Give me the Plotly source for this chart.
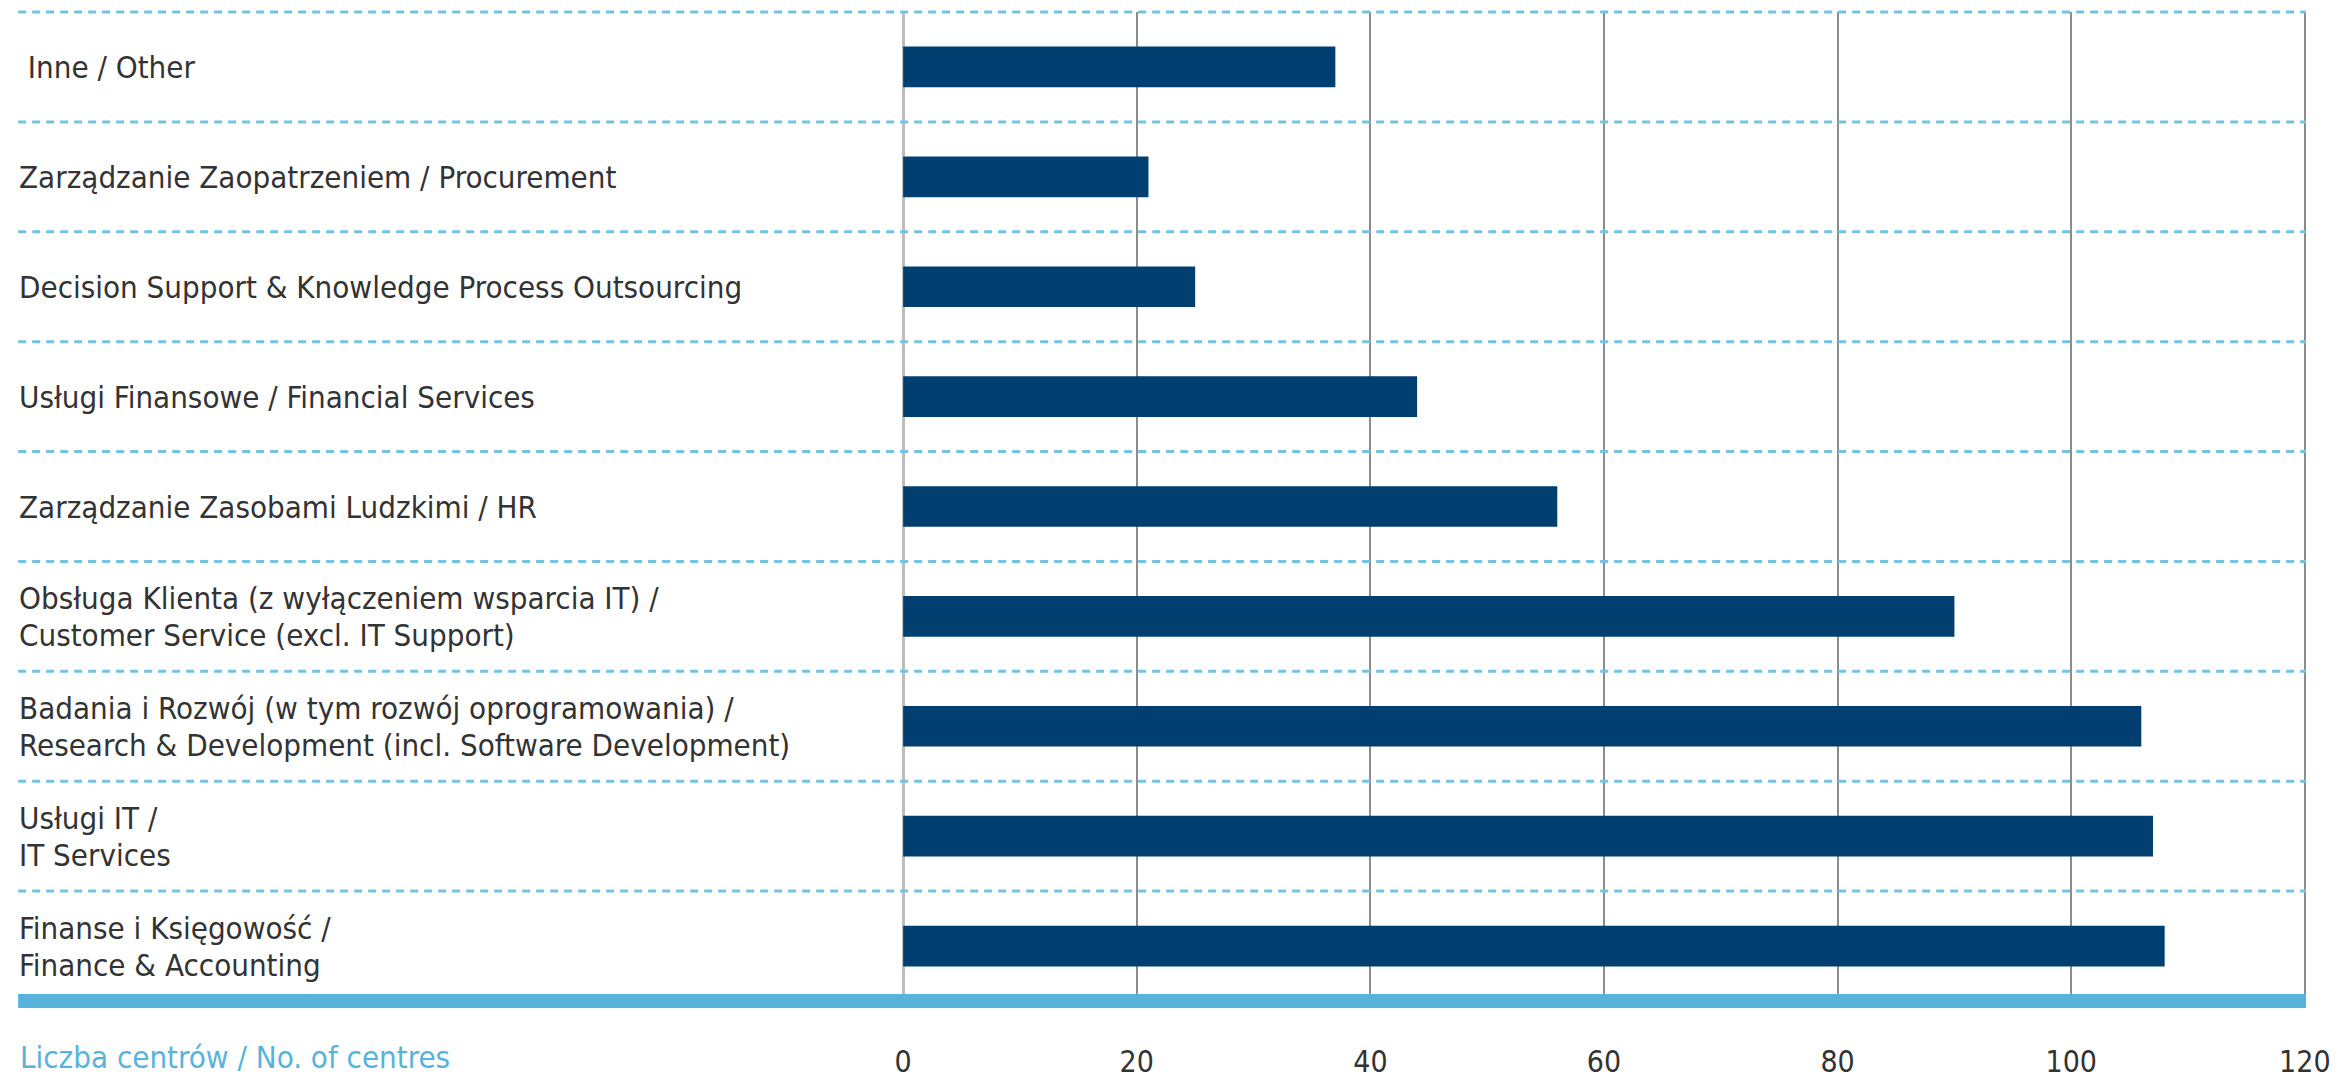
import plotly.graph_objects as go

# Data (top to bottom as in the reference)
categories = [
    "\u00a0Inne / Other",
    "Zarządzanie Zaopatrzeniem / Procurement",
    "Decision Support & Knowledge Process Outsourcing",
    "Usługi Finansowe / Financial Services",
    "Zarządzanie Zasobami Ludzkimi / HR",
    "Obsługa Klienta (z wyłączeniem wsparcia IT) /<br>Customer Service (excl. IT Support)",
    "Badania i Rozwój (w tym rozwój oprogramowania) /<br>Research & Development (incl. Software Development)",
    "Usługi IT /<br>IT Services",
    "Finanse i Księgowość /<br>Finance & Accounting",
]
values = [37, 21, 25, 44, 56, 90, 106, 107, 108]
x_ticks = [0, 20, 40, 60, 80, 100, 120]
axis_title = "Liczba centrów / No. of centres"

# Styles
FONT = "DejaVu Sans Condensed, Liberation Sans Narrow, sans-serif"
TEXT_COLOR = "#333333"
BAR_COLOR = "#003f70"
LIGHT_BLUE = "#56b4dc"
DASH_BLUE = "#74c3e3"
LABEL_SIZE = 31
LINE_GAP = 37

W, H = 2343, 1091
ML, MR, MT, MB = 902, 32, 12, 76
plot_w = W - ML - MR
plot_h = H - MT - MB
left_px = 15
x_left_paper = (left_px - ML) / plot_w
label_paper = (14 - ML) / plot_w

# plot bottom-to-top order for categorical y
cats_plot = categories[::-1]
vals_plot = values[::-1]
n = len(cats_plot)

fig = go.Figure(
    go.Bar(
        x=vals_plot,
        y=list(range(n)),
        orientation="h",
        marker=dict(color=BAR_COLOR, line=dict(width=0)),
        hovertext=[c.replace("<br>", " ") for c in cats_plot],
        hoverinfo="text+x",
    )
)

shapes = []
# dashed separators (including the top one), extending into the label area
for k in range(1, n + 1):
    shapes.append(dict(
        type="line", xref="paper", yref="y domain",
        x0=x_left_paper, x1=1, y0=k / n, y1=k / n,
        line=dict(color=DASH_BLUE, width=3, dash="8px,6px"),
        layer="above",
    ))
# thick light-blue base band
shapes.append(dict(
    type="line", xref="paper", yref="y domain",
    x0=x_left_paper, x1=1, y0=0, y1=0,
    line=dict(color=LIGHT_BLUE, width=14),
    layer="above",
))

annotations = []
for i, c in enumerate(cats_plot):
    lines = c.split("<br>")
    m = len(lines)
    for j, ln in enumerate(lines):
        annotations.append(dict(
            text=ln, xref="paper", yref="y", x=label_paper, y=i,
            yshift=((m - 1) / 2 - j) * LINE_GAP,
            xanchor="left", yanchor="middle", align="left", showarrow=False,
            font=dict(family=FONT, size=LABEL_SIZE, color=TEXT_COLOR),
        ))
annotations.append(dict(
    text=axis_title, xref="paper", yref="paper",
    x=(15 - ML) / plot_w, y=-(1072 - (H - MB)) / plot_h,
    xanchor="left", yanchor="middle", showarrow=False,
    font=dict(family=FONT, size=LABEL_SIZE, color=LIGHT_BLUE),
))

fig.update_layout(
    width=W, height=H,
    margin=dict(l=ML, r=MR, t=MT, b=MB, pad=0),
    paper_bgcolor="white", plot_bgcolor="white",
    bargap=0.63,
    showlegend=False,
    shapes=shapes,
    annotations=annotations,
    xaxis=dict(
        range=[-0.1, 120.1], tickvals=x_ticks, ticktext=[str(t) for t in x_ticks],
        showgrid=True, gridcolor="#8c8c8c", gridwidth=1.5,
        zeroline=True, zerolinecolor="#bdbdbd", zerolinewidth=3,
        showline=False, ticks="",
        tickfont=dict(family=FONT, size=30, color=TEXT_COLOR),
        ticklabelstandoff=40,
        fixedrange=True,
    ),
    yaxis=dict(
        range=[-0.5, n - 0.5], showticklabels=False, showgrid=False,
        zeroline=False, showline=False, ticks="", fixedrange=True,
    ),
)

fig.write_html(
    "out.html",
    post_script="document.body.style.margin='0';document.body.style.overflow='hidden';",
)
